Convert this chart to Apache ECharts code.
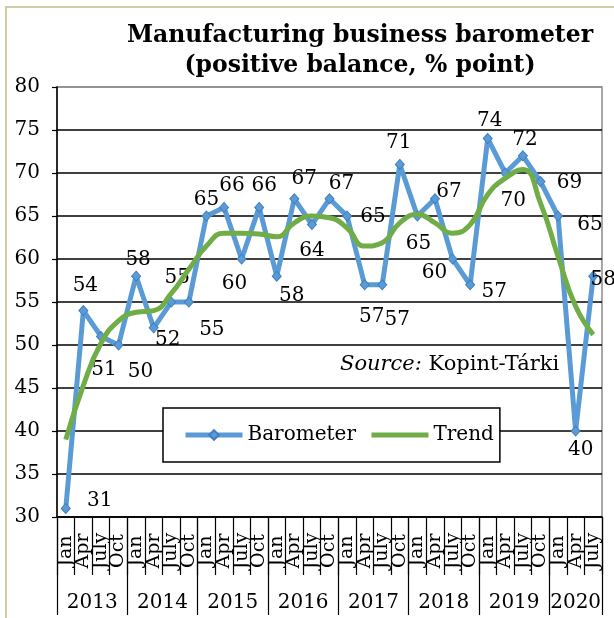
<!DOCTYPE html>
<html>
<head>
<meta charset="utf-8">
<title>Manufacturing business barometer</title>
<script src="https://cdn.jsdelivr.net/npm/echarts@6/dist/echarts.min.js"></script>
<style>
  html, body { margin: 0; padding: 0; background: #fff; }
  #chart { width: 614px; height: 618px; }
</style>
</head>
<body>
<div id="chart"></div>
<script>
// Quarterly survey periods, 2013 Jan .. 2020 July
const months = [
  'Jan', 'Apr', 'July', 'Oct',
  'Jan', 'Apr', 'July', 'Oct',
  'Jan', 'Apr', 'July', 'Oct',
  'Jan', 'Apr', 'July', 'Oct',
  'Jan', 'Apr', 'July', 'Oct',
  'Jan', 'Apr', 'July', 'Oct',
  'Jan', 'Apr', 'July', 'Oct',
  'Jan', 'Apr', 'July'
];
const years = ['2013', '2014', '2015', '2016', '2017', '2018', '2019', '2020'];

// Barometer (positive balance, % point)
const barometer = [
  31, 54, 51, 50,
  58, 52, 55, 55,
  65, 66, 60, 66,
  58, 67, 64, 67,
  65, 57, 57, 71,
  65, 67, 60, 57,
  74, 70, 72, 69,
  65, 40, 58
];

// Smoothed trend
const trend = [
  39.0, 45.3, 50.2, 52.8,
  53.8, 54.0, 56.0, 58.8,
  61.5, 63.0, 63.0, 62.9,
  62.6, 64.2, 65.0, 64.8,
  63.6, 61.5, 61.9, 64.2,
  65.2, 64.2, 63.0, 64.0,
  67.5, 69.4, 70.4, 66.5,
  60.3, 54.5, 51.2
];

const yTicks = { min: 30, max: 80, step: 5 };

// Per-point offset of the value labels (px from the marker centre)
const labelOffsets = [
  [34, -8], [2, -25], [3, 33], [22, 27],
  [2, -16], [14, 12], [6, -24], [23, 28],
  [0, -16], [8, -22], [-7, 25], [5, -22],
  [15, 20], [10, -20], [0, 26], [12, -15],
  [26, 1], [7, 32], [15, 35], [-1, -22],
  [1, 28], [14, -7], [-18, 14], [24, 7],
  [2, -18], [8, 28], [2, -16], [29, 1],
  [32, 9], [5, 19], [10, 4]
];

const yearOfPoint = months.map((m, i) => years[Math.floor(i / 4)]);
const quartersInYear = y => yearOfPoint.filter(v => v === y).length;

const FONT = 'DejaVu Serif';

const chart = echarts.init(document.getElementById('chart'), null, { renderer: 'canvas' });

const splitColors = [];
for (let v = yTicks.min; v <= yTicks.max; v += yTicks.step) {
  splitColors.push(v === yTicks.max ? '#8c8c8c' : '#000000');
}

chart.setOption({
  backgroundColor: '#ffffff',
  animation: false,
  graphic: [{
    type: 'rect',
    z: -10,
    shape: { x: 6, y: 7, width: 640, height: 640 },
    style: { fill: 'none', stroke: '#d2cba8', lineWidth: 2 }
  }],
  title: [{
    text: 'Manufacturing business barometer\n(positive balance, % point)',
    left: 360,
    top: 21,
    padding: 0,
    textAlign: 'center',
    textStyle: {
      fontFamily: FONT,
      fontWeight: 'bold',
      fontSize: 23.5,
      lineHeight: 30,
      color: '#000'
    }
  }, {
    text: '{i|Source:} Kopint-Tárki',
    left: 340,
    top: 354,
    padding: 0,
    textStyle: {
      fontFamily: FONT,
      fontWeight: 'normal',
      fontSize: 21,
      color: '#000',
      rich: {
        i: { fontFamily: FONT, fontStyle: 'italic', fontSize: 21, color: '#000' }
      }
    }
  }],
  legend: {
    left: 163,
    top: 408,
    padding: [17, 6, 17, 20],
    itemGap: 13,
    itemWidth: 57,
    itemHeight: 12,
    selectedMode: false,
    backgroundColor: '#ffffff',
    borderColor: '#000000',
    borderWidth: 1.5,
    lineStyle: { width: 5 },
    textStyle: { fontFamily: FONT, fontSize: 20, color: '#000' },
    data: [
      { name: 'Barometer' },
      { name: 'Trend', itemStyle: { opacity: 0 } }
    ]
  },
  grid: {
    left: 57, right: 12, top: 87, bottom: 101,
    show: true,
    borderColor: '#8c8c8c',
    borderWidth: 1.5,
    backgroundColor: 'transparent'
  },
  xAxis: [{
    type: 'category',
    data: months,
    boundaryGap: true,
    position: 'bottom',
    axisLine: { show: true, lineStyle: { color: '#000', width: 1.5 } },
    axisTick: { show: true, interval: 0, length: 58, lineStyle: { color: '#000', width: 1.2 } },
    axisLabel: {
      interval: 0,
      rotate: 90,
      align: 'center',
      verticalAlign: 'middle',
      margin: 34,
      fontFamily: FONT,
      fontSize: 19,
      color: '#000'
    },
    splitLine: { show: false }
  }, {
    type: 'category',
    data: yearOfPoint,
    boundaryGap: true,
    position: 'bottom',
    offset: 0,
    axisLine: { show: false },
    axisTick: {
      show: true,
      interval: (i) => i % 4 === 0,
      length: 98,
      lineStyle: { color: '#000', width: 1.2 }
    },
    axisLabel: {
      interval: (i) => i % 4 === 1,
      margin: 76,
      fontFamily: FONT,
      fontSize: 20,
      color: '#000',
      formatter: (v) => quartersInYear(v) === 4 ? '{s|' + v + '}' : '{c|' + v + '}',
      rich: {
        s: { fontFamily: FONT, fontSize: 20, color: '#000', padding: [0, 0, 0, 17.6] },
        c: { fontFamily: FONT, fontSize: 20, color: '#000' }
      }
    },
    splitLine: { show: false }
  }],
  yAxis: {
    type: 'value',
    min: yTicks.min,
    max: yTicks.max,
    interval: yTicks.step,
    axisLine: { show: true, lineStyle: { color: '#000', width: 1.5 } },
    axisTick: { show: true, length: 5, lineStyle: { color: '#000', width: 1.2 } },
    axisLabel: { margin: 17, fontFamily: FONT, fontSize: 20, color: '#000' },
    splitLine: { show: true, lineStyle: { color: splitColors, width: 1.5 } }
  },
  series: [{
    name: 'Barometer',
    type: 'line',
    xAxisIndex: 0,
    data: barometer.map((v, i) => ({
      value: v,
      label: { offset: labelOffsets[i] }
    })),
    symbol: 'diamond',
    symbolSize: [9, 10],
    showAllSymbol: true,
    lineStyle: { color: '#5b9bd5', width: 5 },
    itemStyle: { color: '#5b9bd5', borderColor: '#3f7ec2', borderWidth: 1 },
    label: {
      show: true,
      position: 'inside',
      fontFamily: FONT,
      fontSize: 20,
      color: '#000'
    },
    emphasis: { disabled: true },
    z: 2
  }, {
    name: 'Trend',
    type: 'line',
    xAxisIndex: 0,
    data: trend,
    smooth: 0.5,
    symbol: 'none',
    lineStyle: { color: '#70ad47', width: 5 },
    itemStyle: { color: '#70ad47' },
    emphasis: { disabled: true },
    z: 3
  }]
});
</script>
</body>
</html>
